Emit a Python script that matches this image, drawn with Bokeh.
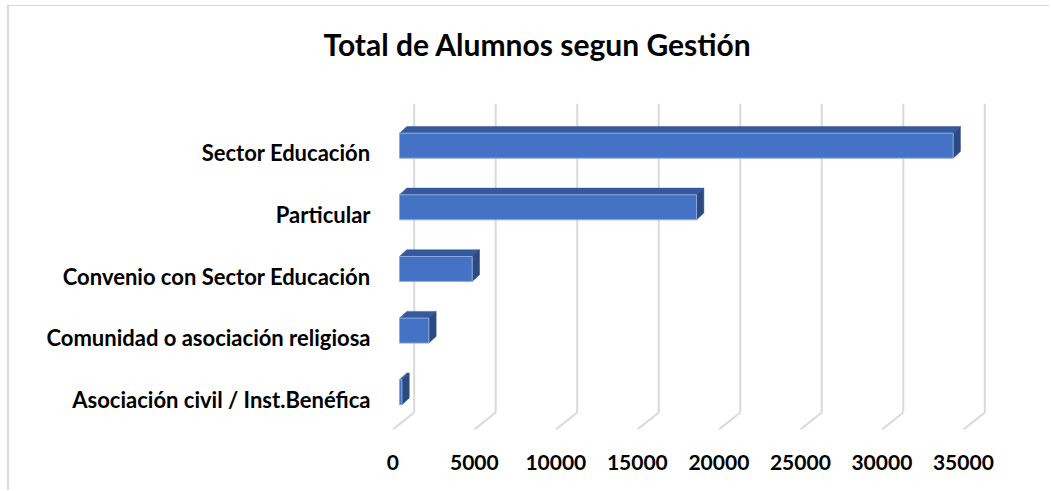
from bokeh.plotting import figure
from bokeh.models import Range1d, FixedTicker, Title
from bokeh.embed import file_html
from bokeh.resources import INLINE

# ---------------- data ----------------
categories = [
    "Sector Educación",
    "Particular",
    "Convenio con Sector Educación",
    "Comunidad o asociación religiosa",
    "Asociación civil / Inst.Benéfica",
]
values = [33960, 18220, 4460, 1800, 150]
x_ticks = [0, 5000, 10000, 15000, 20000, 25000, 30000, 35000]
title_text = "Total de Alumnos segun Gestión"

# ---------------- geometry (pixels -> data units) ----------------
PX_X = 570.6 / 35000.0   # px per value unit
PX_Y = 61.7              # px per category step


def ux(px):
    return px / PX_X


def uy(px):
    return px / PX_Y


n = len(categories)
pos = [n - 1 - i for i in range(n)]  # top category at highest y

x_start, x_end = ux(380 - 392.3), ux(1000 - 392.3)
y_start, y_end = -uy(429.3 - 399.2), (n - 1) + uy(152.4 - 95)

FLOOR_DX, FLOOR_DY = ux(21.4), uy(17)
GRID_TOP = (n - 1) + uy(152.4 - 103.3)
BAR_OFF_X, BAR_OFF_Y = ux(6.7), uy(7.2)
HALF_H = uy(12.5)
BAR_DX, BAR_DY = ux(7.3), uy(6.7)

FONT = "Lato"
GRID_COLOR = "#D9D9D9"
FRONT = "#4472C4"
TOP = "#34599C"
SIDE = "#2B4B80"

p = figure(
    width=1042, height=485,
    x_range=Range1d(x_start, x_end), y_range=Range1d(y_start, y_end),
    output_backend="svg", toolbar_location=None,
    min_border_left=371, min_border_right=51,
    min_border_top=89, min_border_bottom=62,
)
p.title = None
p.styles = {
    "margin-left": "7px", "margin-top": "5px",
    "border-left": "2px solid #D9D9D9", "border-top": "1px solid #D9D9D9",
}
p.outline_line_color = None
p.background_fill_color = "white"
p.border_fill_color = "white"
p.xgrid.visible = False
p.ygrid.visible = False

# ---------------- gridlines (back wall + floor) ----------------
back_x = [t + FLOOR_DX for t in x_ticks]
floor_back = y_start + FLOOR_DY
p.segment(x0=back_x, y0=[floor_back] * len(x_ticks), x1=back_x, y1=[GRID_TOP] * len(x_ticks),
          line_color=GRID_COLOR, line_width=2)
p.segment(x0=back_x, y0=[floor_back] * len(x_ticks), x1=x_ticks, y1=[y_start] * len(x_ticks),
          line_color=GRID_COLOR, line_width=2)

# ---------------- 3D bars ----------------
left = [BAR_OFF_X] * n
right = [v + BAR_OFF_X for v in values]
bottom = [k + BAR_OFF_Y - HALF_H for k in pos]
top = [k + BAR_OFF_Y + HALF_H for k in pos]

top_xs = [[l, r, r + BAR_DX, l + BAR_DX] for l, r in zip(left, right)]
top_ys = [[t, t, t + BAR_DY, t + BAR_DY] for t in top]
side_xs = [[r, r, r + BAR_DX, r + BAR_DX] for r in right]
side_ys = [[b, t, t + BAR_DY, b + BAR_DY] for b, t in zip(bottom, top)]

p.patches(xs=top_xs, ys=top_ys, fill_color=TOP, line_color=TOP, line_width=0.5)
p.patches(xs=side_xs, ys=side_ys, fill_color=SIDE, line_color=SIDE, line_width=0.5)
p.quad(left=left, right=right, bottom=bottom, top=top,
       fill_color=FRONT, line_color="#8EA9DB", line_width=1)

# ---------------- axes ----------------
xa = p.xaxis[0]
xa.ticker = FixedTicker(ticks=x_ticks)
xa.axis_line_color = None
xa.major_tick_line_color = None
xa.minor_tick_line_color = None
xa.major_tick_out = 0
xa.major_tick_in = 0
xa.minor_tick_out = 0
xa.minor_tick_in = 0
xa.major_label_text_font = FONT
xa.major_label_text_font_style = "bold"
xa.major_label_text_font_size = "21px"
xa.major_label_text_color = "black"
xa.major_label_standoff = 25

ya = p.yaxis[0]
ya.ticker = FixedTicker(ticks=pos)
ya.major_label_overrides = {k: c for k, c in zip(pos, categories)}
ya.axis_line_color = None
ya.major_tick_line_color = None
ya.minor_tick_line_color = None
ya.major_tick_out = 0
ya.major_tick_in = 0
ya.minor_tick_out = 0
ya.minor_tick_in = 0
ya.major_label_text_font = FONT
ya.major_label_text_font_style = "bold"
ya.major_label_text_font_size = "22px"
ya.major_label_text_color = "black"
ya.major_label_standoff = 10

# ---------------- title (spacer panel nearest the frame, then the title) ----------------
p.add_layout(Title(text=" ", text_font=FONT, text_font_size="10px", standoff=19), "above")
p.add_layout(Title(text=title_text, text_font=FONT, text_font_style="bold",
                   text_font_size="30px", text_color="black",
                   align="left", offset=-57, vertical_align="middle", standoff=0), "above")

open("out.html", "w").write(file_html(p, INLINE))
